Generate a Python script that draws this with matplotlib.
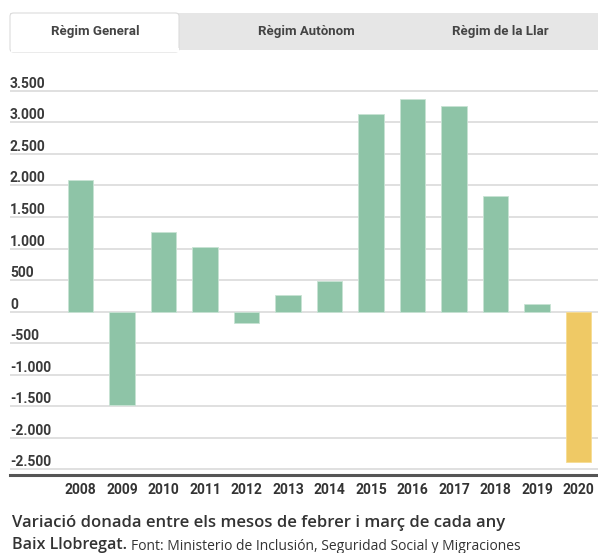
import matplotlib
matplotlib.use("Agg")
import matplotlib.pyplot as plt
from matplotlib.patches import Rectangle, FancyBboxPatch
import matplotlib.transforms as mtransforms

years = ["2008", "2009", "2010", "2011", "2012", "2013", "2014",
         "2015", "2016", "2017", "2018", "2019", "2020"]
values = [2080, -1480, 1258, 1030, -185, 258, 488,
          3138, 3376, 3262, 1835, 120, -2380]
ytick_values = [3500, 3000, 2500, 2000, 1500, 1000, 500, 0,
                -500, -1000, -1500, -2000, -2500]
ytick_labels = ["3.500", "3.000", "2.500", "2.000", "1.500", "1.000", "500", "0",
                "-500", "-1.000", "-1.500", "-2.000", "-2.500"]
tabs = ["Règim General", "Règim Autònom", "Règim de la Llar"]
caption1 = "Variació donada entre els mesos de febrer i març de cada any"
caption2a = "Baix Llobregat."
caption2b = "Font: Ministerio de Inclusión, Seguridad Social y Migraciones"

plt.rcParams['font.family'] = ['Roboto', 'DejaVu Sans']

W, H = 598, 553
fig = plt.figure(figsize=(W / 100, H / 100), dpi=100)

def fx(px):
    return px / W

def fy(py):
    return 1 - py / H

# Tabs
fig.patches.append(Rectangle((fx(10), fy(50)), fx(588), (37) / H,
                             transform=fig.transFigure, facecolor="#e6e6e6",
                             edgecolor="none", zorder=0))
fig.patches.append(FancyBboxPatch((fx(10), fy(52)), fx(169), 39 / H,
                                  boxstyle="round,pad=0,rounding_size=0.006",
                                  transform=fig.transFigure, facecolor="white",
                                  edgecolor="#dcdcdc", linewidth=0.8, zorder=1))
fig.patches.append(Rectangle((fx(10.5), fy(52)), fx(168), 4 / H,
                             transform=fig.transFigure, facecolor="white",
                             edgecolor="none", zorder=2))
tab_x = [95, 306, 500]
for t, x in zip(tabs, tab_x):
    fig.text(fx(x), fy(31), t, ha="center", va="center", fontsize=9.5,
             fontweight="bold", color="#444444", zorder=3)

# Axes
ax = fig.add_axes([fx(10), fy(474.7), fx(588), (474.7 - 84.6) / H])
colors = ["#8ec4a7"] * (len(values) - 1) + ["#efc965"]
xs = list(range(len(values)))
ax.bar(xs, values, width=0.617, color=colors, edgecolor="#c8e3d4",
       linewidth=0.6, zorder=3)
ax.patches[-1].set_edgecolor("#f7dc92")
ax.set_xlim(-1.699, 12.47)
ax.set_ylim(-2588, 3600)
ax.set_yticks(ytick_values)
ax.set_yticklabels([])
ax.tick_params(axis="y", length=0)
ax.grid(axis="y", color="#dddddd", linewidth=1.3, zorder=0)
ax.set_xticks([])
for s in ["top", "right", "left"]:
    ax.spines[s].set_visible(False)
ax.spines["bottom"].set_color("#555555")
ax.spines["bottom"].set_linewidth(2.2)

off = mtransforms.offset_copy(ax.get_yaxis_transform(), fig=fig, x=0, y=3, units="dots")
for v, lab in zip(ytick_values, ytick_labels):
    ax.text(0, v, lab, transform=off, ha="left", va="baseline", fontsize=10,
            fontweight="bold", color="#3a3a3a")

# Year labels
ylab_trans = mtransforms.blended_transform_factory(ax.transData, fig.transFigure)
for x, y in zip(xs, years):
    ax.text(x, fy(490.5), y, transform=ylab_trans, ha="center", va="center",
            fontsize=10, fontweight="bold", color="#333333")

# Captions
cap_font = ['Open Sans', 'DejaVu Sans']
fig.text(fx(12), fy(523), caption1, ha="left", va="center", fontsize=12,
         fontweight="semibold", color="#333333", family=cap_font)
t2 = fig.text(fx(12), fy(545), caption2a, ha="left", va="center", fontsize=11.5,
              fontweight="semibold", color="#333333", family=cap_font)
fig.canvas.draw()
bb = t2.get_window_extent()
fig.text(bb.x1 / W + fx(4), fy(546), caption2b, ha="left", va="center",
         fontsize=10, color="#333333", family=cap_font)

fig.savefig("out.png", dpi=100)
